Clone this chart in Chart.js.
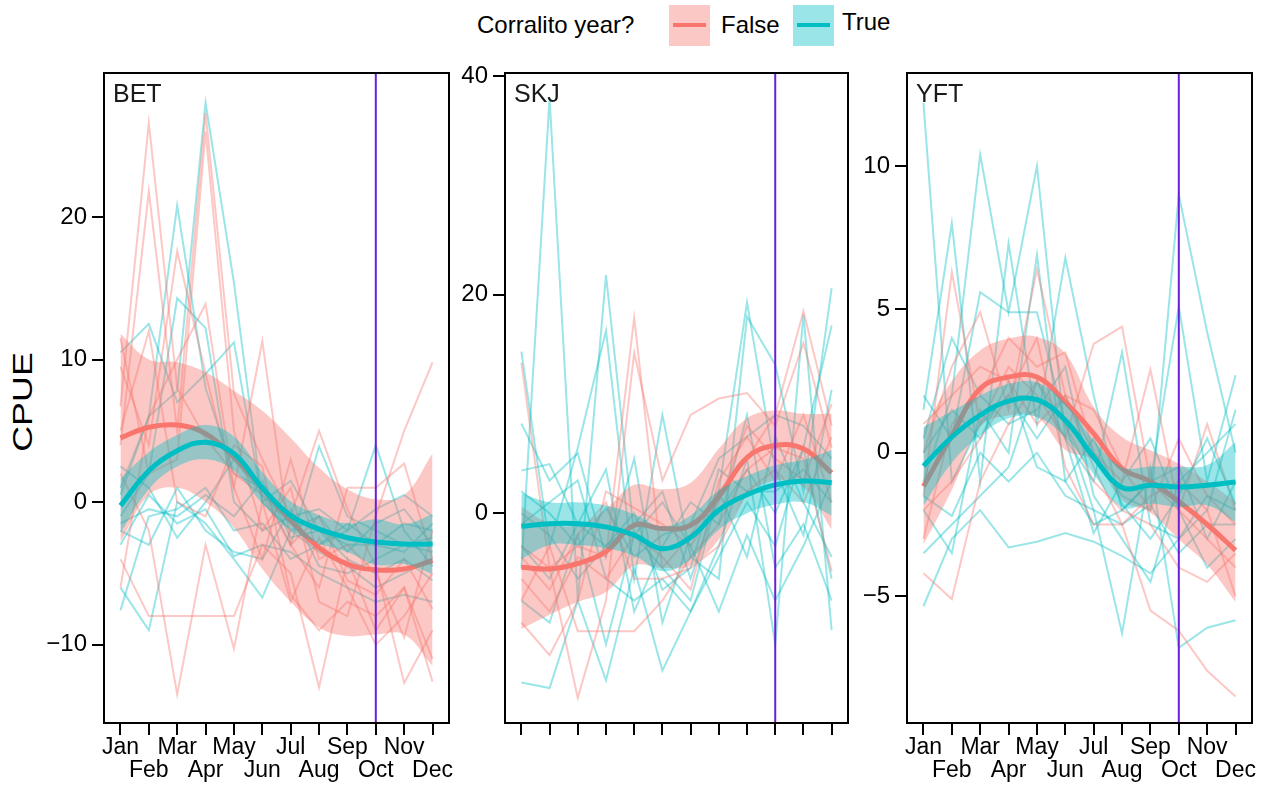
<!DOCTYPE html>
<html>
<head>
<meta charset="utf-8">
<script src="https://cdn.jsdelivr.net/npm/chart.js@4.4.0/dist/chart.umd.min.js"></script>
<style>
  body { margin: 0; width: 1266px; height: 785px; background: #fff; position: relative; overflow: hidden;
         font-family: "Liberation Sans", Arial, sans-serif; }
  canvas { position: absolute; top: 0; }
  .lg { position: absolute; font-size: 24px; color: #000; white-space: nowrap; }
  .key { position: absolute; width: 41px; height: 41px; }
  .key span { position: absolute; left: 4px; width: 33px; top: 18px; height: 4px; }
  #ylab { position: absolute; left: 23px; top: 402px; font-size: 28px; line-height: 28px; color: #000;
          white-space: nowrap; transform: translate(-50%, -50%) rotate(-90deg) scaleX(1.28); }
</style>
</head>
<body>
<div class="lg" style="left:477px; top:11px;">Corralito year?</div>
<div class="key" style="left:669px; top:5px; background:rgba(248,118,109,0.4);"><span style="background:#F8766D"></span></div>
<div class="lg" style="left:721px; top:11px;">False</div>
<div class="key" style="left:793px; top:5px; background:rgba(0,191,196,0.4);"><span style="background:#00BFC4"></span></div>
<div class="lg" style="left:842px; top:8px;">True</div>
<div id="ylab">CPUE</div>

<canvas id="bet" width="455" height="785" style="left:0px"></canvas>
<canvas id="skj" width="400" height="785" style="left:455px"></canvas>
<canvas id="yft" width="411" height="785" style="left:855px"></canvas>

<script>
const months = [1, 2, 3, 4, 5, 6, 7, 8, 9, 10, 11, 12];
const monthNames = ['Jan', 'Feb', 'Mar', 'Apr', 'May', 'Jun', 'Jul', 'Aug', 'Sep', 'Oct', 'Nov', 'Dec'];
const refMonth = 10; // vertical line

// BET - individual years
const betFalseYears = [
  [6.7, 26.6, 8.0, 4.5, 2.0, 0.5, -3.0, -1.0, -5.5, -6.5, -4.0, -7.5],
  [4.0, 21.8, 5.0, 27.3, 7.6, 3.0, -1.0, 5.0, -0.5, -4.5, -12.7, -9.0],
  [9.5, 4.0, 17.6, 9.0, 1.0, 11.3, -3.0, -6.0, 1.0, 1.0, 2.7, -4.0],
  [-4.0, -8.0, -8.0, -8.0, -8.0, -3.0, -5.0, -13.0, -4.0, -9.0, -6.0, -12.6],
  [11.5, 2.0, 3.0, 26.0, 5.0, -2.0, 1.0, -7.0, -8.0, -1.0, 5.0, 9.8],
  [2.0, -2.0, -13.5, -3.0, -10.3, 0.0, -7.0, -2.5, -6.0, -10.0, -8.0, -5.0],
  [-6.0, 6.0, 10.0, 13.9, 1.0, -4.0, 3.0, -4.0, -3.0, -5.0, -9.5, -2.0],
  [5.0, 12.0, 0.0, -1.0, 4.0, 2.5, -6.5, -9.0, -7.0, -8.0, -6.0, -11.0]
];
const betTrueYears = [
  [0.5, 6.0, 7.8, 28.0, 15.4, 0.0, -2.0, -3.5, -4.5, -6.0, -5.0, -4.0],
  [1.0, 6.0, 20.8, 8.0, 2.0, 1.0, -3.0, 3.9, -1.0, -2.0, -3.0, -3.5],
  [10.5, 12.5, 7.0, 9.0, 11.2, 0.0, 1.5, -2.0, -3.0, -3.0, -1.5, -2.0],
  [-1.0, 2.0, 14.3, 12.2, 0.0, -2.0, -1.0, -0.5, -2.0, -0.5, 0.5, -1.0],
  [-7.6, -1.0, -0.5, 1.0, -2.0, -1.5, -4.0, -3.0, -2.0, 4.0, -2.0, -4.5],
  [-6.0, -9.0, 0.0, -1.5, -4.0, -6.7, -2.0, -1.0, -3.5, -1.5, -0.5, -3.0],
  [-2.0, -3.0, 1.0, -2.0, -3.5, -4.0, -0.5, -4.5, -5.0, -4.0, -3.0, -2.5],
  [-1.5, -0.5, -1.0, 0.5, -1.0, 1.5, -2.5, -2.0, -4.0, -5.0, -4.0, -5.5],
  [2.5, 1.0, -2.5, 0.0, 3.0, 0.5, -1.5, -3.0, -1.5, -3.0, -3.5, -1.5],
  [-3.0, 0.5, -1.5, -0.5, -3.8, -3.0, -3.5, -5.0, -6.0, -7.0, -6.5, -7.0]
];
// BET - smooth fits and bands
const betFalseFit = [4.5, 5.25, 5.4, 4.8, 3.15, 0.95, -1.3, -3.2, -4.35, -4.75, -4.7, -4.1];
const betFalseHi  = [11.8, 10.0, 9.8, 9.1, 7.8, 6.4, 4.5, 2.4, 0.9, 0.2, 0.5, 3.4];
const betFalseLo  = [-2.8, 0.5, 1.0, 0.0, -1.8, -4.7, -7.0, -8.8, -9.4, -9.3, -9.3, -11.5];
const betTrueFit  = [-0.25, 2.2, 3.6, 4.2, 3.4, 1.0, -0.95, -1.9, -2.5, -2.8, -2.95, -2.95];
const betTrueHi   = [1.65, 3.5, 4.7, 5.4, 4.6, 2.1, 0.05, -0.9, -1.5, -1.2, -1.55, -0.85];
const betTrueLo   = [-2.15, 0.9, 2.5, 3.0, 2.2, -0.1, -1.95, -2.9, -3.5, -4.4, -4.35, -5.05];

// SKJ - individual years
const skjFalseYears = [
  [13.8, -5.0, -3.0, -4.0, 17.9, -5.0, -2.0, 2.0, 5.0, 9.0, 18.5, 8.0],
  [-3.0, -5.0, -16.9, -8.0, 14.7, 3.0, 9.0, 10.5, 11.0, 8.0, 15.6, 6.0],
  [-8.0, -3.0, -10.8, -10.8, -10.8, -8.0, -4.0, -1.0, 4.0, 6.0, 5.0, -5.3],
  [-10.0, -13.0, -8.0, 2.0, 0.5, -1.0, -3.0, 1.0, 8.0, 5.0, 3.0, 10.0],
  [-6.0, -9.0, -4.0, -6.0, -2.0, -4.0, -7.0, 3.0, 7.0, 3.0, 9.0, 1.0],
  [-4.0, -7.0, -2.0, 1.0, -6.0, -6.0, -5.0, -3.0, 2.0, 4.0, 1.0, 7.0]
];
const skjTrueYears = [
  [-5.0, 38.0, -8.0, 21.8, -2.0, -5.0, -8.0, 2.0, 19.3, 4.0, -2.0, 11.3],
  [14.8, -3.0, 6.0, 16.7, -6.0, 9.0, -4.0, -6.0, 18.0, 13.6, 2.0, 20.6],
  [-15.5, -16.0, -8.0, -15.3, -5.0, -14.4, -9.0, -3.0, 5.0, -12.0, 18.2, -10.7],
  [8.2, 3.0, 5.5, -4.0, 5.0, -10.0, -2.0, 0.0, 4.0, 0.0, 6.0, 17.2],
  [3.9, 4.5, -1.0, -3.0, -1.0, 2.0, -6.0, 2.0, -4.0, 7.0, 1.0, -4.0],
  [-3.0, -6.0, -1.0, 4.0, -9.0, -3.0, 1.0, -1.0, 9.0, -5.0, -1.0, -8.0],
  [0.0, -2.0, -6.0, -3.0, 0.0, -7.0, -5.0, 4.0, 2.0, 2.0, 4.0, 1.0],
  [-8.0, -10.0, -2.0, -12.0, -2.0, 1.0, -3.0, -9.0, -2.0, -8.0, -3.0, 3.0],
  [2.0, 0.0, -3.0, 0.5, -4.0, -2.0, -1.0, 5.0, 7.0, 9.0, 8.0, 5.0],
  [-1.0, 1.0, 3.0, -6.0, -8.0, -6.0, -9.0, -4.0, 1.0, -3.0, 6.0, -6.0]
];
const skjFalseFit = [-4.95, -5.1, -4.6, -3.5, -1.1, -1.4, -1.1, 1.55, 5.1, 6.2, 5.9, 3.7];
const skjFalseHi  = [0.6, -0.9, -1.1, 0.4, 2.6, 2.2, 2.8, 5.9, 8.7, 9.4, 9.1, 9.1];
const skjFalseLo  = [-10.6, -9.3, -8.1, -7.2, -4.8, -5.0, -4.8, -2.4, 1.6, 3.0, 2.4, -1.5];
const skjTrueFit  = [-1.2, -0.95, -0.95, -1.25, -2.0, -3.25, -2.2, 0.3, 1.7, 2.6, 2.95, 2.8];
const skjTrueHi   = [1.8, 1.0, 1.0, 0.7, -0.1, -1.2, -0.2, 2.1, 3.4, 4.4, 4.9, 5.8];
const skjTrueLo   = [-4.2, -2.9, -2.9, -3.2, -3.9, -5.3, -4.2, -1.5, 0.0, 0.8, 1.0, -0.2];

// YFT - individual years
const yftFalseYears = [
  [-4.2, -5.1, -1.0, 1.0, 2.5, 1.0, -1.0, -2.0, -2.5, -4.0, -4.5, -3.5],
  [-1.5, 6.3, 1.0, 3.0, 2.0, 0.5, 3.8, 4.4, -1.0, -2.0, 1.0, -2.0],
  [0.0, 3.0, 4.9, 1.5, 6.4, 2.0, -0.5, -2.5, -5.5, -6.2, -7.6, -8.5],
  [-3.0, 1.0, 2.0, 4.0, 3.0, 3.5, 0.0, -1.0, 2.9, -2.0, -3.0, -4.0],
  [1.0, 2.0, 3.0, 2.5, 1.0, 2.0, 1.5, -0.5, -2.0, 0.5, -1.5, -2.5],
  [-2.0, -1.0, 0.5, 2.0, 4.0, -0.5, -2.5, -2.5, -1.5, -1.0, -2.0, -5.0]
];
const yftTrueYears = [
  [12.2, -1.0, 1.0, 2.0, 0.5, 2.0, 0.0, -1.5, -2.0, 9.0, 4.2, 0.0],
  [1.5, 8.0, -1.0, 7.3, 1.0, 6.8, 2.0, -2.0, -1.0, 5.1, -1.0, 2.7],
  [-1.0, 2.0, 10.4, 4.9, 10.0, 0.5, -1.0, 3.5, -2.5, -3.0, -2.0, 1.5],
  [-5.35, -3.0, -2.0, -3.3, -3.1, -2.8, -3.1, -3.6, -4.2, -3.0, -1.5, -2.0],
  [2.0, 0.5, 5.6, 4.9, 4.9, 1.0, -2.0, -6.3, -0.5, -6.8, -6.1, -5.84],
  [-2.0, -3.5, 1.5, 0.0, 6.9, -1.0, -2.5, -2.0, -1.0, -0.5, -3.0, -1.0],
  [0.5, 4.0, 2.0, 1.0, 1.5, 3.0, -1.5, -3.0, -4.5, -1.0, 0.0, 1.0],
  [-3.5, -2.5, -1.5, -0.5, 2.5, 0.5, -2.8, -1.0, 0.5, -2.0, -4.0, -3.0],
  [0.0, 1.5, 0.5, 2.5, -0.5, -1.0, 0.5, -1.8, -3.0, -1.5, 0.5, -1.8],
  [-1.5, -2.2, 0.0, -1.0, 0.0, -1.5, -2.0, -2.5, -1.8, -3.5, -2.5, -2.5]
];
const yftFalseFit = [-1.17, 0.6, 2.24, 2.64, 2.64, 1.77, 0.67, -0.55, -1.0, -1.7, -2.5, -3.4];
const yftFalseHi  = [0.8, 2.5, 3.57, 3.98, 4.04, 3.46, 1.6, 0.55, 0.09, -0.38, -1.0, -1.7];
const yftFalseLo  = [-3.2, -1.3, 0.9, 1.3, 1.24, 0.1, -0.26, -1.65, -2.09, -3.02, -3.9, -5.2];
const yftTrueFit  = [-0.46, 0.55, 1.31, 1.8, 1.85, 1.13, -0.15, -1.21, -1.13, -1.19, -1.13, -1.02];
const yftTrueHi   = [0.9, 1.45, 2.0, 2.4, 2.45, 1.73, 0.45, -0.5, -0.48, -0.49, -0.43, 0.38];
const yftTrueLo   = [-1.85, -0.35, 0.6, 1.2, 1.25, 0.53, -0.75, -1.9, -1.78, -1.89, -1.83, -2.42];

const RED = '#F8766D', TEAL = '#00BFC4';
const RED_A = 'rgba(248,118,109,0.4)', TEAL_A = 'rgba(0,191,196,0.4)';

const pts = vals => months.map((m, i) => ({ x: m, y: vals[i] }));

function panelDatasets(p) {
  const ds = [];
  p.falseYears.forEach(v => ds.push({ data: pts(v), borderColor: RED_A, borderWidth: 2, order: 6 }));
  p.trueYears.forEach(v => ds.push({ data: pts(v), borderColor: TEAL_A, borderWidth: 2, order: 6 }));
  // red band + fit
  ds.push({ data: pts(p.falseLo), borderColor: 'transparent', borderWidth: 0, tension: 0.4, order: 5 });
  ds.push({ data: pts(p.falseHi), borderColor: 'transparent', borderWidth: 0, tension: 0.4, order: 5,
            fill: '-1', backgroundColor: RED_A });
  ds.push({ data: pts(p.falseFit), borderColor: RED, borderWidth: 5, tension: 0.4, order: 4 });
  // teal band + fit
  ds.push({ data: pts(p.trueLo), borderColor: 'transparent', borderWidth: 0, tension: 0.4, order: 3 });
  ds.push({ data: pts(p.trueHi), borderColor: 'transparent', borderWidth: 0, tension: 0.4, order: 3,
            fill: '-1', backgroundColor: TEAL_A });
  ds.push({ data: pts(p.trueFit), borderColor: TEAL, borderWidth: 5, tension: 0.4, order: 2 });
  // reference month
  ds.push({ data: [{ x: refMonth, y: p.yMin }, { x: refMonth, y: p.yMax }], borderColor: '#6A1FD6',
            borderWidth: 2, order: 1 });
  return ds;
}

const frame = {
  id: 'frame',
  afterDraw(chart) {
    const { ctx, chartArea: a } = chart;
    ctx.save();
    ctx.strokeStyle = '#000';
    ctx.lineWidth = 2;
    ctx.strokeRect(a.left, a.top, a.right - a.left, a.bottom - a.top);
    ctx.fillStyle = '#1a1a1a';
    ctx.font = '25px "Liberation Sans", Arial, sans-serif';
    ctx.textBaseline = 'alphabetic';
    ctx.fillText(chart.options.plugins.frame.label, a.left + 9, a.top + 29);
    ctx.restore();
  }
};

const fmt = v => v < 0 ? '\u2212' + Math.abs(v) : String(v);

function makePanel(id, p) {
  new Chart(document.getElementById(id), {
    type: 'line',
    data: { datasets: panelDatasets(p) },
    options: {
      responsive: false,
      animation: false,
      elements: { point: { radius: 0 }, line: { fill: false } },
      layout: { padding: { top: 73, right: p.padRight, bottom: 0, left: 0 } },
      plugins: { legend: { display: false }, tooltip: { enabled: false }, frame: { label: p.label } },
      scales: {
        x: {
          type: 'linear', min: 0.42, max: 12.58,
          afterBuildTicks: s => { s.ticks = months.map(m => ({ value: m })); },
          afterFit: s => { s.height = 62; },
          ticks: {
            autoSkip: false, maxRotation: 0, color: '#000', padding: 1,
            font: { family: '"Liberation Sans", Arial, sans-serif', size: 23, lineHeight: 1.0 },
            callback: v => p.showMonths ? (v % 2 === 1 ? monthNames[v - 1] : ['', monthNames[v - 1]]) : ''
          },
          grid: { drawOnChartArea: false, color: '#000', lineWidth: 2, tickLength: 12 },
          border: { color: '#000', width: 2 }
        },
        y: {
          min: p.yMin, max: p.yMax,
          afterBuildTicks: s => { s.ticks = p.yTicks.map(v => ({ value: v })); },
          afterFit: s => { s.width = p.yWidth; },
          ticks: { color: '#000', padding: 5, callback: fmt,
                   font: { family: '"Liberation Sans", Arial, sans-serif', size: 24 } },
          grid: { drawOnChartArea: false, color: '#000', lineWidth: 2, tickLength: 12 },
          border: { color: '#000', width: 2 }
        }
      }
    },
    plugins: [frame]
  });
}

makePanel('bet', {
  label: 'BET', falseYears: betFalseYears, trueYears: betTrueYears,
  falseFit: betFalseFit, falseHi: betFalseHi, falseLo: betFalseLo,
  trueFit: betTrueFit, trueHi: betTrueHi, trueLo: betTrueLo,
  yMin: -15.5, yMax: 30.1, yTicks: [-10, 0, 10, 20], yWidth: 104, padRight: 6, showMonths: true
});
makePanel('skj', {
  label: 'SKJ', falseYears: skjFalseYears, trueYears: skjTrueYears,
  falseFit: skjFalseFit, falseHi: skjFalseHi, falseLo: skjFalseLo,
  trueFit: skjTrueFit, trueHi: skjTrueHi, trueLo: skjTrueLo,
  yMin: -19.2, yMax: 40.3, yTicks: [0, 20, 40], yWidth: 50, padRight: 7, showMonths: false
});
makePanel('yft', {
  label: 'YFT', falseYears: yftFalseYears, trueYears: yftTrueYears,
  falseFit: yftFalseFit, falseHi: yftFalseHi, falseLo: yftFalseLo,
  trueFit: yftTrueFit, trueHi: yftTrueHi, trueLo: yftTrueLo,
  yMin: -9.42, yMax: 13.24, yTicks: [-5, 0, 5, 10], yWidth: 52, padRight: 14, showMonths: true
});
</script>
</body>
</html>
